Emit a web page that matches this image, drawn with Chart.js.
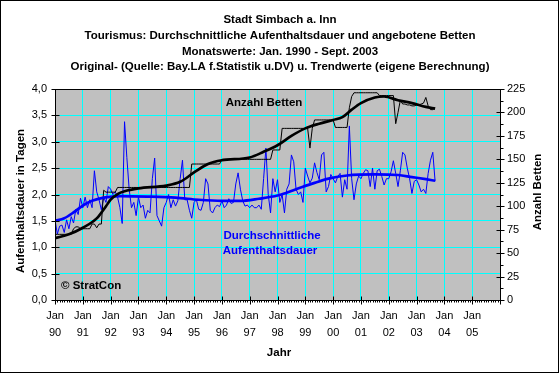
<!DOCTYPE html>
<html>
<head>
<meta charset="utf-8">
<script src="https://cdn.jsdelivr.net/npm/chart.js@4.4.1/dist/chart.umd.min.js"></script>
<style>
html,body{margin:0;padding:0;background:#fff;}
canvas{display:block;}
</style>
</head>
<body>
<canvas id="c" width="560" height="374"></canvas>
<script>
// ---- data (monthly, Jan 1990 = month 0 ... Sept 2003 = month 164) ----
const monthLabel = 'Jan';
const yearLabels = ['90','91','92','93','94','95','96','97','98','99','00','01','02','03','04','05'];
const yLeftMax = 4.0;
const yRightMax = 225;

const stayOriginal = [
  1.52,1.25,1.40,1.42,1.28,1.52,1.35,1.58,1.46,1.72,1.62,1.93,
  1.75,1.95,1.75,1.90,1.75,2.45,2.05,1.90,1.71,1.95,1.85,2.15,
  2.10,2.00,2.05,1.95,1.75,1.45,3.38,2.70,2.10,1.75,1.85,1.60,
  1.95,1.75,1.80,1.55,1.70,1.65,2.30,2.69,1.60,1.50,1.40,1.75,
  1.85,2.00,1.75,1.90,1.78,1.88,2.30,2.65,1.90,1.90,1.70,1.55,
  1.85,1.90,1.72,1.70,1.85,2.30,2.20,1.70,1.65,1.75,1.80,1.77,
  1.88,1.75,1.80,1.92,1.83,1.85,2.20,2.41,2.10,1.88,1.78,1.80,
  1.75,1.80,1.75,1.75,1.80,1.72,2.30,2.88,2.00,1.65,2.30,2.05,
  2.28,1.85,2.00,1.65,2.10,2.20,2.75,2.62,2.10,2.00,2.05,1.85,
  2.50,2.35,2.22,2.31,2.60,2.42,2.28,2.75,2.80,2.05,2.15,2.38,
  2.30,2.22,2.34,2.40,1.95,2.28,2.10,3.30,2.30,1.90,2.20,2.35,
  2.30,2.40,2.47,2.45,2.15,2.50,2.10,2.45,2.48,2.34,2.18,2.30,
  2.30,2.43,2.64,2.40,2.15,2.45,2.80,2.75,2.50,2.30,2.02,2.25,
  2.28,2.18,2.05,2.10,2.02,2.40,2.65,2.80,2.25
];

const bedsOriginal = [
  70,70,70,70,70,70,70,70,
  76,78,78,76,76,76,76,76,
  81,81,77,81,81,
  117,115,115,115,115,115,
  120,120,120,120,120,120,120,120,120,120,120,120,120,120,120,120,
  120,120,120,120,120,120,120,120,120,120,120,120,120,120,120,120,
  145,145,145,145,145,145,145,145,145,145,145,145,145,
  150,150,150,150,150,150,150,150,150,150,150,150,150,150,150,150,150,150,150,150,150,150,
  160,160,160,160,
  183,183,183,183,183,183,183,183,183,183,183,183,
  162,183,
  192,192,192,192,192,192,192,192,192,
  184,184,184,184,184,184,
  205,217,
  221,221,221,221,221,221,221,221,221,221,221,
  218,218,218,218,218,218,218,
  188,200,213,
  209,209,208,208,207,207,208,208,209,
  210,216,207,203,203,205
];

// trend values read at selected months
const stayTrendMonths = [0,4,8,12,16,21,28,40,52,62,72,80,88,96,104,112,118,126,138,148,154,160,164];
const stayTrend      = [1.50,1.55,1.66,1.79,1.88,1.94,1.97,1.96,1.94,1.90,1.88,1.88,1.92,1.98,2.10,2.22,2.30,2.36,2.38,2.37,2.33,2.29,2.26];

const bedsTrendMonths = [0,6,12,18,22,24,27,30,36,48,54,60,66,72,84,90,96,102,108,114,120,124,128,132,138,142,148,154,160,164];
const bedsTrend       = [66,70,77,87,100,107,113,116,119,122,126,136,145,149,152,158,165,175,183,188,192,195,203,210,216,217,213,210,206,204];

// ---- chart ----
const FONT = '"Liberation Sans", Arial, sans-serif';
const BOLD = 'bold 11.5px ' + FONT;

const decor = {
  id: 'decor',
  beforeDraw(chart) {
    const {ctx, chartArea: a} = chart;
    ctx.save();
    ctx.fillStyle = '#ffffff';
    ctx.fillRect(0, 0, chart.width, chart.height);
    ctx.fillStyle = '#C0C0C0';
    ctx.fillRect(a.left, a.top, a.right - a.left, a.bottom - a.top);
    ctx.restore();
  },
  afterDraw(chart) {
    const {ctx, chartArea: a, scales} = chart;
    ctx.save();
    ctx.strokeStyle = '#000';
    ctx.lineWidth = 1;
    // plot border
    ctx.strokeRect(Math.round(a.left) + 0.5, Math.round(a.top) + 0.5,
                   Math.round(a.right - a.left), Math.round(a.bottom - a.top));
    // outer border
    ctx.strokeRect(0.5, 0.5, chart.width - 2, chart.height - 2);

    ctx.beginPath();
    // x ticks
    const xs = scales.x;
    const yb = Math.round(a.bottom) + 0.5;
    for (let m = xs.min; m <= xs.max; m++) {
      const px = Math.round(xs.getPixelForValue(m)) + 0.5;
      if (m % 12 === 0) { ctx.moveTo(px, yb - 4); ctx.lineTo(px, yb + 4); }
      else { ctx.moveTo(px, yb); ctx.lineTo(px, yb + 2); }
    }
    // left ticks
    const yl = scales.y;
    const xl = Math.round(a.left) + 0.5;
    for (let v = 0; v <= yLeftMax + 1e-9; v += 0.5) {
      const py = Math.round(yl.getPixelForValue(v)) + 0.5;
      ctx.moveTo(xl - 4, py); ctx.lineTo(xl + 4, py);
    }
    // right ticks
    const yr = scales.yR;
    const xr = Math.round(a.right) + 0.5;
    for (let v = 0; v <= yRightMax + 1e-9; v += 12.5) {
      const py = Math.round(yr.getPixelForValue(v)) + 0.5;
      if (v % 25 === 0) { ctx.moveTo(xr - 4, py); ctx.lineTo(xr + 4, py); }
      else { ctx.moveTo(xr, py); ctx.lineTo(xr + 3, py); }
    }
    ctx.stroke();

    // texts
    ctx.fillStyle = '#000';
    ctx.textAlign = 'center';
    ctx.textBaseline = 'middle';
    ctx.font = BOLD;
    const cx = 280;
    ctx.fillText('Stadt Simbach a. Inn', cx, 20);
    ctx.fillText('Tourismus: Durchschnittliche Aufenthaltsdauer und angebotene Betten', cx, 36);
    ctx.fillText('Monatswerte: Jan. 1990 - Sept. 2003', cx, 52);
    ctx.fillText('Original- (Quelle: Bay.LA f.Statistik u.DV) u. Trendwerte (eigene Berechnung)', cx, 67);

    ctx.fillText('Anzahl Betten', 264, 103);
    ctx.fillText('Jahr', 279, 353);
    ctx.textAlign = 'left';
    ctx.fillText('\u00A9 StratCon', 61, 286);

    ctx.textAlign = 'center';
    ctx.fillStyle = '#0000FF';
    ctx.fillText('Durchschnittliche', 272, 236);
    ctx.fillText('Aufenthaltsdauer', 270, 251);

    ctx.fillStyle = '#000';
    ctx.save();
    ctx.translate(21, 201);
    ctx.rotate(-Math.PI / 2);
    ctx.fillText('Aufenthaltsdauer in Tagen', 0, 0);
    ctx.restore();
    ctx.save();
    ctx.translate(538, 192);
    ctx.rotate(-Math.PI / 2);
    ctx.fillText('Anzahl Betten', 0, 0);
    ctx.restore();

    ctx.restore();
  }
};

const pts = (vals, xs) => vals.map((v, i) => ({x: xs ? xs[i] : i, y: v}));

new Chart(document.getElementById('c'), {
  type: 'line',
  data: {
    datasets: [
      { label: 'Betten Trend', data: pts(bedsTrend, bedsTrendMonths), yAxisID: 'yR',
        borderColor: '#000000', borderWidth: 2.7, pointRadius: 0, cubicInterpolationMode: 'monotone', order: 0 },
      { label: 'Aufenthaltsdauer Trend', data: pts(stayTrend, stayTrendMonths), yAxisID: 'y',
        borderColor: '#0000FF', borderWidth: 2.7, pointRadius: 0, cubicInterpolationMode: 'monotone', order: 1 },
      { label: 'Anzahl Betten', data: pts(bedsOriginal), yAxisID: 'yR',
        borderColor: '#000000', borderWidth: 1, pointRadius: 0, tension: 0, order: 2 },
      { label: 'Aufenthaltsdauer', data: pts(stayOriginal), yAxisID: 'y',
        borderColor: '#0000FF', borderWidth: 1, pointRadius: 0, tension: 0, order: 3 }
    ]
  },
  options: {
    responsive: false,
    animation: false,
    devicePixelRatio: 1,
    layout: { padding: { top: 89, left: 0, right: 0, bottom: 0 } },
    plugins: { legend: { display: false }, tooltip: { enabled: false }, title: { display: false } },
    scales: {
      x: {
        type: 'linear', min: 0, max: 192,
        afterFit: s => { s.height = 74; },
        border: { display: false },
        grid: { drawTicks: false,
                color: c => (c.tick && (c.tick.value === 0 || c.tick.value === 192)) ? 'rgba(0,0,0,0)' : '#00FFFF' },
        ticks: {
          stepSize: 12, autoSkip: false, maxRotation: 0, padding: 8, color: '#000',
          font: { family: FONT, size: 11, lineHeight: 1.5 },
          callback: v => { const i = Math.round(v / 12); return i < yearLabels.length ? [monthLabel, yearLabels[i]] : ''; }
        }
      },
      y: {
        position: 'left', min: 0, max: yLeftMax,
        afterFit: s => { s.width = 55; },
        border: { display: false },
        grid: { drawTicks: false,
                color: c => (c.tick && (c.tick.value === 0 || c.tick.value === yLeftMax)) ? 'rgba(0,0,0,0)' : '#00FFFF' },
        ticks: { stepSize: 0.5, padding: 8, color: '#000', font: { family: FONT, size: 11 },
                 callback: v => v.toFixed(1).replace('.', ',') }
      },
      yR: {
        position: 'right', min: 0, max: yRightMax,
        afterFit: s => { s.width = 60; },
        border: { display: false },
        grid: { display: false, drawOnChartArea: false, drawTicks: false },
        ticks: { stepSize: 25, padding: 7, color: '#000', font: { family: FONT, size: 11 } }
      }
    }
  },
  plugins: [decor]
});
</script>
</body>
</html>
